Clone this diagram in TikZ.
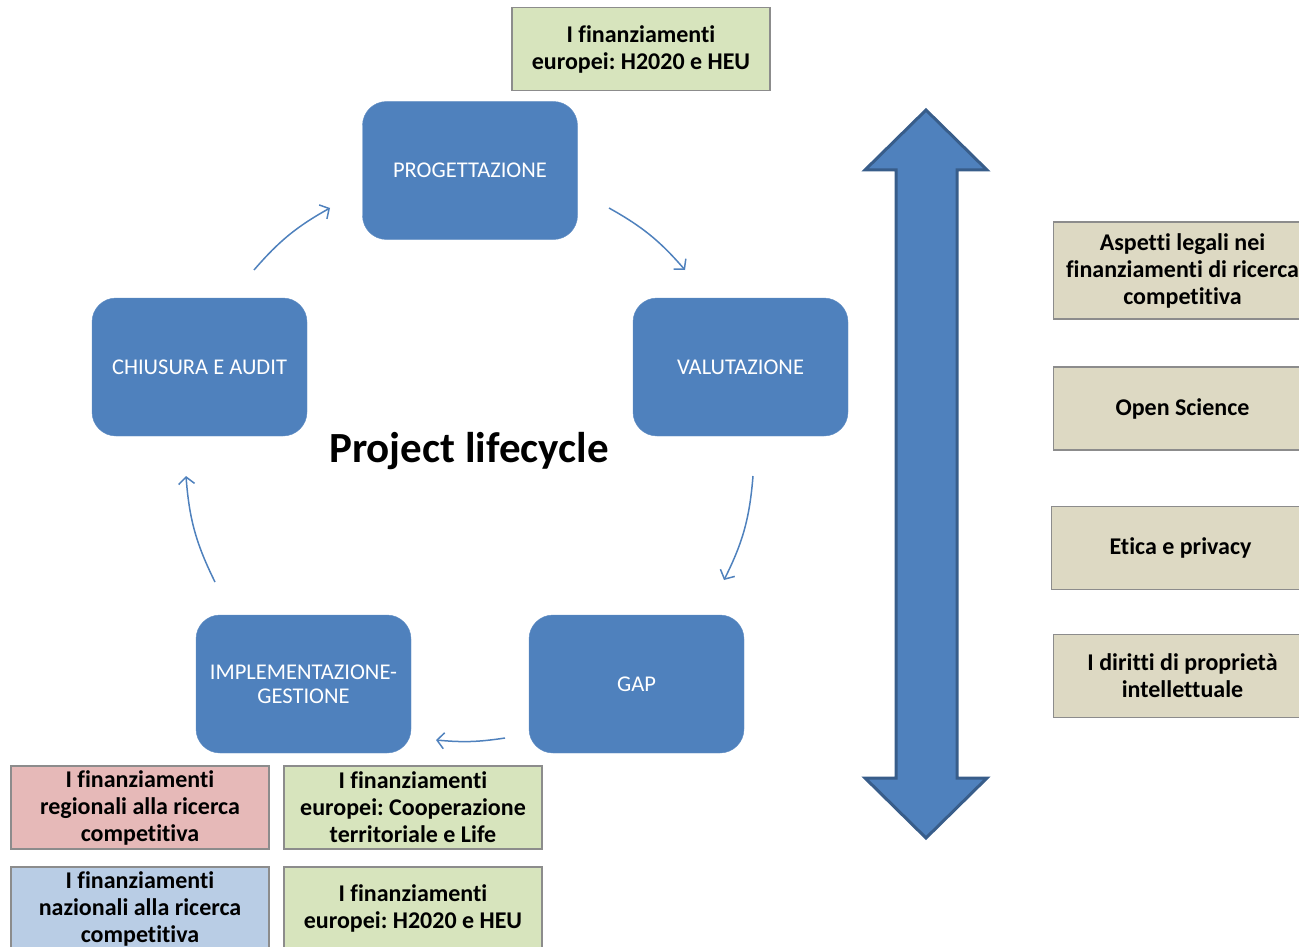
\documentclass[tikz,border=0pt]{standalone}
\usepackage{fontspec}
\setmainfont{Carlito}[Ligatures=NoCommon]
\usetikzlibrary{arrows.meta}
\frenchspacing
\definecolor{bluebox}{HTML}{4F81BD}
\definecolor{darkblue}{HTML}{385D8A}
\definecolor{greenbox}{HTML}{D7E4BD}
\definecolor{pinkbox}{HTML}{E6B9B8}
\definecolor{lbluebox}{HTML}{B9CDE5}
\definecolor{tanbox}{HTML}{DDD9C3}
\definecolor{boxborder}{HTML}{8C8C8C}
\tikzset{
  phase/.style={fill=bluebox, draw=bluebox!90!white, rounded corners=24pt, minimum width=215pt, minimum height=138pt, text=white, align=center, inner sep=0pt, font=\fontsize{22.5}{24}\selectfont},
  topic/.style={draw=boxborder, line width=1.8pt, minimum width=258pt, minimum height=83pt, align=center, inner sep=0pt, font=\bfseries\fontsize{24}{27}\selectfont},
  cyc/.style={draw=bluebox, line width=1.5pt, -{Straight Barb[length=7pt,width=16pt,line width=1.5pt]}}
}
\begin{document}
\begin{tikzpicture}[x=1pt,y=-1pt]
\useasboundingbox (0,0) rectangle (1299,947);
% phases
\node[phase] (prog) at (470,170.5) {PROGETTAZIONE};
\node[phase] (val) at (740.5,367) {VALUTAZIONE};
\node[phase] (gap) at (636.5,684) {GAP};
\node[phase] (impl) at (303.5,684) {IMPLEMENTAZIONE-\\GESTIONE};
\node[phase] (chius) at (199.5,367) {CHIUSURA E AUDIT};
\node[font=\bfseries\fontsize{43}{50}\selectfont] (title) at (469,451) {Project lifecycle};
% cycle arrows
\coordinate (a1s) at (254,270); \coordinate (a1e) at (330,208);
\coordinate (a2s) at (609,208); \coordinate (a2e) at (685,270);
\coordinate (a3s) at (753,476); \coordinate (a3e) at (724,580);
\coordinate (a4s) at (505,738); \coordinate (a4e) at (436,740);
\coordinate (a5s) at (215,582); \coordinate (a5e) at (186,476);
\draw[cyc] (a1s) to[bend left=10] (a1e);
\draw[cyc] (a2s) to[bend left=10] (a2e);
\draw[cyc] (a3s) to[bend left=11] (a3e);
\draw[cyc] (a4s) to[bend left=7] (a4e);
\draw[cyc] (a5s) to[bend left=11] (a5e);
% topic boxes
\node[topic, fill=greenbox] (t1) at (641,49) {I finanziamenti\\europei: H2020 e HEU};
\node[topic, fill=pinkbox] (t2) at (140,807.5) {I finanziamenti\\regionali alla ricerca\\competitiva};
\node[topic, fill=greenbox] (t3) at (413,807.5) {I finanziamenti\\europei: Cooperazione\\territoriale e Life};
\node[topic, fill=lbluebox] (t4) at (140,908.5) {I finanziamenti\\nazionali alla ricerca\\competitiva};
\node[topic, fill=greenbox] (t5) at (413,908.5) {I finanziamenti\\europei: H2020 e HEU};
\node[topic, fill=tanbox, minimum height=97pt] (r1) at (1182.5,270.5) {Aspetti legali nei\\finanziamenti di ricerca\\competitiva};
\node[topic, fill=tanbox] (r2) at (1182.5,408.5) {Open Science};
\node[topic, fill=tanbox] (r3) at (1180.5,548) {Etica e privacy};
\node[topic, fill=tanbox] (r4) at (1182.5,676) {I diritti di propriet\`a\\intellettuale};
% double arrow
\draw[fill=bluebox, draw=darkblue, line width=3pt, line join=miter]
  (926,110) -- (987,170) -- (957,170) -- (957,778) -- (987,778) -- (926,838)
  -- (865,778) -- (896,778) -- (896,170) -- (865,170) -- cycle;
\end{tikzpicture}
\end{document}
